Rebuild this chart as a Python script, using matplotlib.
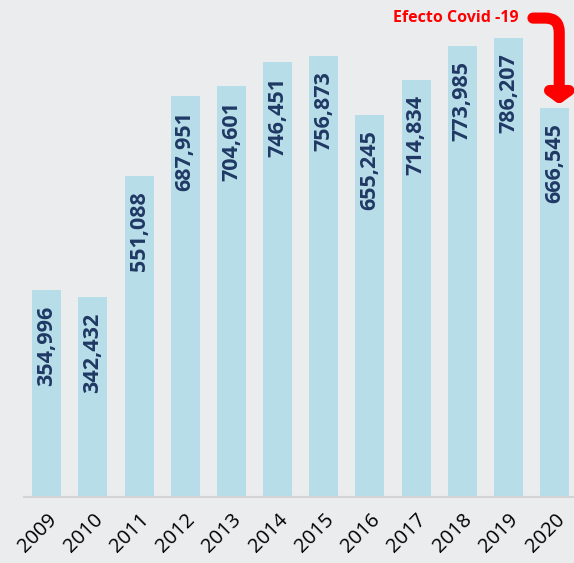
import matplotlib
matplotlib.use("Agg")
import matplotlib.pyplot as plt
from matplotlib.patches import FancyArrowPatch

years = ["2009", "2010", "2011", "2012", "2013", "2014",
         "2015", "2016", "2017", "2018", "2019", "2020"]
values = [354996, 342432, 551088, 687951, 704601, 746451,
          756873, 655245, 714834, 773985, 786207, 666545]

bg = "#EBECEE"
bar_color = "#B7DDE8"
label_color = "#1F3864"
fonts = ["Open Sans", "DejaVu Sans"]

fig = plt.figure(figsize=(5.74, 5.63), dpi=100, facecolor=bg)
ax = fig.add_axes([0.042, 0.117, 0.958, 0.883], facecolor=bg)

x = range(len(years))
ax.bar(x, values, width=0.63, color=bar_color, zorder=2)

for i, v in enumerate(values):
    ax.annotate(f"{v:,}", xy=(i, v), xytext=(0, -11), textcoords="offset points",
                rotation=90, ha="center", va="top", fontsize=15.5,
                fontweight="bold", color=label_color, family=fonts)

ax.set_xlim(-0.49, 11.42)
ax.set_ylim(0, 852000)
ax.set_xticks(list(x))
ax.set_xticklabels(years, rotation=45, ha="right", rotation_mode="anchor",
                   fontsize=14.5, family=fonts, color="black")
ax.tick_params(axis="x", length=0, pad=9)
ax.set_yticks([])
for s in ["top", "right", "left"]:
    ax.spines[s].set_visible(False)
ax.spines["bottom"].set_color("#D4D4D4")
ax.spines["bottom"].set_linewidth(1.5)

# Covid note with elbow arrow to the 2020 bar
ax.text(10.21, 821000, "Efecto Covid -19", ha="right", va="center",
        fontsize=11.5, fontweight="bold", color="#FF0000", family=fonts)
arrow = FancyArrowPatch((10.47, 821000), (11.1, values[-1] + 2000),
                        connectionstyle="angle,angleA=0,angleB=90,rad=14",
                        arrowstyle="-|>,head_width=0.35,head_length=0.25",
                        mutation_scale=20, lw=8, color="#FF0000",
                        clip_on=False, zorder=5)
ax.add_patch(arrow)

fig.savefig("out.png", dpi=100, facecolor=bg)
